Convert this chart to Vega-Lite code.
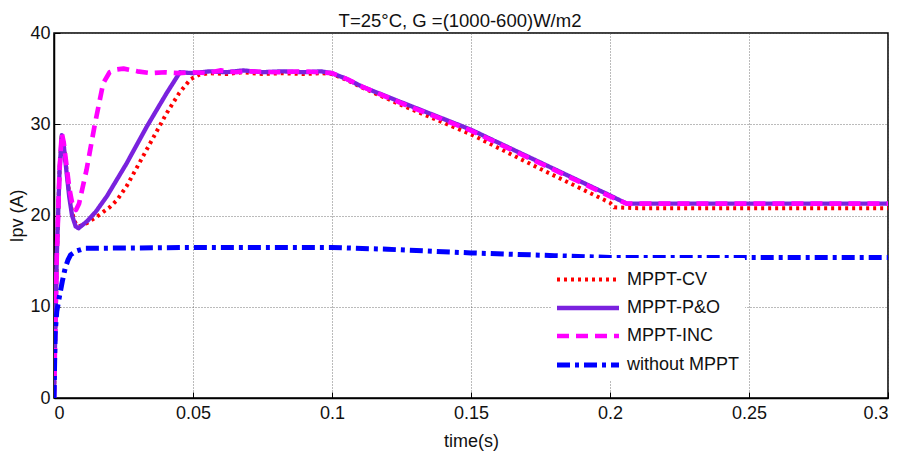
{
"$schema":"https://vega.github.io/schema/vega-lite/v6.json",
"width":834,"height":365,
"autosize":{"type":"none"},
"padding":{"left":54,"top":33,"right":11,"bottom":61},
"background":"white",
"title":{"text":"T=25°C, G =(1000-600)W/m2","font":"Liberation Sans","fontSize":18.5,"fontWeight":"normal","color":"#111","offset":-6,"anchor":"middle","dx":-11},
"config":{
 "view":{"stroke":"black","strokeWidth":1.5},
 "axis":{"domainColor":"black","domainWidth":1.5,"tickColor":"black","tickSize":-6,"tickWidth":1,"gridColor":"#555","gridDash":[1,2],"gridWidth":1,"gridOpacity":0.8,"labelFont":"Liberation Sans","labelFontSize":18,"labelColor":"#111","titleFont":"Liberation Sans","titleFontSize":18,"titleFontWeight":"normal","titleColor":"#111"},
 "legend":{"orient":"none","legendX":497,"legendY":225,"fillColor":"white","strokeColor":"white","padding":4,"symbolType":"M-2,0H2","symbolSize":961,"symbolOffset":15,"labelFont":"Liberation Sans","labelFontSize":18,"labelColor":"#111","labelOffset":21,"rowPadding":1}
},
"data":{"values":[
{"s":"MPPT-CV","t":0,"I":0},{"s":"MPPT-CV","t":0.0005,"I":8},{"s":"MPPT-CV","t":0.001,"I":15.5},{"s":"MPPT-CV","t":0.002,"I":25},{"s":"MPPT-CV","t":0.0028,"I":28.8},{"s":"MPPT-CV","t":0.0035,"I":27.8},{"s":"MPPT-CV","t":0.0045,"I":25},{"s":"MPPT-CV","t":0.0055,"I":22.3},{"s":"MPPT-CV","t":0.0065,"I":20.3},{"s":"MPPT-CV","t":0.0078,"I":19.1},{"s":"MPPT-CV","t":0.009,"I":18.8},{"s":"MPPT-CV","t":0.012,"I":19.2},{"s":"MPPT-CV","t":0.016,"I":20.0},{"s":"MPPT-CV","t":0.02,"I":20.9},{"s":"MPPT-CV","t":0.0227,"I":21.7},{"s":"MPPT-CV","t":0.0261,"I":23.2},{"s":"MPPT-CV","t":0.0333,"I":27.2},{"s":"MPPT-CV","t":0.0405,"I":31.2},{"s":"MPPT-CV","t":0.045,"I":33.4},{"s":"MPPT-CV","t":0.049,"I":34.9},{"s":"MPPT-CV","t":0.052,"I":35.4},{"s":"MPPT-CV","t":0.056,"I":35.6},{"s":"MPPT-CV","t":0.062,"I":35.5},{"s":"MPPT-CV","t":0.068,"I":35.7},{"s":"MPPT-CV","t":0.075,"I":35.5},{"s":"MPPT-CV","t":0.082,"I":35.6},{"s":"MPPT-CV","t":0.09,"I":35.5},{"s":"MPPT-CV","t":0.096,"I":35.6},{"s":"MPPT-CV","t":0.1,"I":35.5},{"s":"MPPT-CV","t":0.105,"I":34.9},{"s":"MPPT-CV","t":0.111,"I":34.0},{"s":"MPPT-CV","t":0.125,"I":32.1},{"s":"MPPT-CV","t":0.15,"I":28.9},{"s":"MPPT-CV","t":0.175,"I":25.1},{"s":"MPPT-CV","t":0.2,"I":21.4},{"s":"MPPT-CV","t":0.2015,"I":20.9},{"s":"MPPT-CV","t":0.21,"I":20.8},{"s":"MPPT-CV","t":0.25,"I":20.8},{"s":"MPPT-CV","t":0.3,"I":20.8},
{"s":"MPPT-P&O","t":0,"I":0},{"s":"MPPT-P&O","t":0.0005,"I":8},{"s":"MPPT-P&O","t":0.001,"I":15.5},{"s":"MPPT-P&O","t":0.002,"I":25},{"s":"MPPT-P&O","t":0.0028,"I":28.8},{"s":"MPPT-P&O","t":0.0035,"I":27.7},{"s":"MPPT-P&O","t":0.0045,"I":24.8},{"s":"MPPT-P&O","t":0.0055,"I":22.0},{"s":"MPPT-P&O","t":0.0065,"I":20.0},{"s":"MPPT-P&O","t":0.0078,"I":18.8},{"s":"MPPT-P&O","t":0.0088,"I":18.6},{"s":"MPPT-P&O","t":0.012,"I":19.4},{"s":"MPPT-P&O","t":0.015,"I":20.4},{"s":"MPPT-P&O","t":0.019,"I":22.1},{"s":"MPPT-P&O","t":0.0261,"I":25.7},{"s":"MPPT-P&O","t":0.0333,"I":29.7},{"s":"MPPT-P&O","t":0.0405,"I":33.4},{"s":"MPPT-P&O","t":0.0453,"I":35.7},{"s":"MPPT-P&O","t":0.05,"I":35.6},{"s":"MPPT-P&O","t":0.056,"I":35.8},{"s":"MPPT-P&O","t":0.062,"I":35.7},{"s":"MPPT-P&O","t":0.068,"I":35.9},{"s":"MPPT-P&O","t":0.075,"I":35.7},{"s":"MPPT-P&O","t":0.082,"I":35.8},{"s":"MPPT-P&O","t":0.09,"I":35.7},{"s":"MPPT-P&O","t":0.096,"I":35.8},{"s":"MPPT-P&O","t":0.1,"I":35.6},{"s":"MPPT-P&O","t":0.105,"I":35.0},{"s":"MPPT-P&O","t":0.111,"I":34.1},{"s":"MPPT-P&O","t":0.125,"I":32.4},{"s":"MPPT-P&O","t":0.15,"I":29.4},{"s":"MPPT-P&O","t":0.175,"I":25.8},{"s":"MPPT-P&O","t":0.2,"I":22.2},{"s":"MPPT-P&O","t":0.206,"I":21.3},{"s":"MPPT-P&O","t":0.25,"I":21.3},{"s":"MPPT-P&O","t":0.3,"I":21.3},
{"s":"MPPT-INC","t":0,"I":0},{"s":"MPPT-INC","t":0.0005,"I":8},{"s":"MPPT-INC","t":0.001,"I":15.5},{"s":"MPPT-INC","t":0.002,"I":25},{"s":"MPPT-INC","t":0.0028,"I":29},{"s":"MPPT-INC","t":0.0035,"I":28},{"s":"MPPT-INC","t":0.0045,"I":25.5},{"s":"MPPT-INC","t":0.0055,"I":23},{"s":"MPPT-INC","t":0.0065,"I":21.4},{"s":"MPPT-INC","t":0.0079,"I":20.6},{"s":"MPPT-INC","t":0.009,"I":21.3},{"s":"MPPT-INC","t":0.0117,"I":25},{"s":"MPPT-INC","t":0.0147,"I":30},{"s":"MPPT-INC","t":0.0177,"I":34.5},{"s":"MPPT-INC","t":0.02,"I":35.7},{"s":"MPPT-INC","t":0.0225,"I":36.0},{"s":"MPPT-INC","t":0.025,"I":36.1},{"s":"MPPT-INC","t":0.03,"I":35.8},{"s":"MPPT-INC","t":0.035,"I":35.6},{"s":"MPPT-INC","t":0.04,"I":35.7},{"s":"MPPT-INC","t":0.045,"I":35.6},{"s":"MPPT-INC","t":0.05,"I":35.7},{"s":"MPPT-INC","t":0.055,"I":35.6},{"s":"MPPT-INC","t":0.06,"I":35.9},{"s":"MPPT-INC","t":0.065,"I":35.7},{"s":"MPPT-INC","t":0.07,"I":35.8},{"s":"MPPT-INC","t":0.08,"I":35.7},{"s":"MPPT-INC","t":0.09,"I":35.8},{"s":"MPPT-INC","t":0.1,"I":35.6},{"s":"MPPT-INC","t":0.105,"I":35.0},{"s":"MPPT-INC","t":0.111,"I":34.1},{"s":"MPPT-INC","t":0.125,"I":32.3},{"s":"MPPT-INC","t":0.15,"I":29.3},{"s":"MPPT-INC","t":0.175,"I":25.7},{"s":"MPPT-INC","t":0.2,"I":22.1},{"s":"MPPT-INC","t":0.206,"I":21.3},{"s":"MPPT-INC","t":0.25,"I":21.3},{"s":"MPPT-INC","t":0.3,"I":21.3},
{"s":"without MPPT","t":0,"I":0},{"s":"without MPPT","t":0.0004,"I":7},{"s":"without MPPT","t":0.001,"I":9.5},{"s":"without MPPT","t":0.002,"I":11.2},{"s":"without MPPT","t":0.003,"I":12.8},{"s":"without MPPT","t":0.004,"I":14.2},{"s":"without MPPT","t":0.005,"I":15.1},{"s":"without MPPT","t":0.006,"I":15.7},{"s":"without MPPT","t":0.008,"I":16.1},{"s":"without MPPT","t":0.011,"I":16.4},{"s":"without MPPT","t":0.05,"I":16.5},{"s":"without MPPT","t":0.1,"I":16.5},{"s":"without MPPT","t":0.12,"I":16.3},{"s":"without MPPT","t":0.15,"I":15.9},{"s":"without MPPT","t":0.18,"I":15.6},{"s":"without MPPT","t":0.2,"I":15.4},{"s":"without MPPT","t":0.3,"I":15.4}
]},
"mark":{"type":"line","strokeCap":"butt","strokeJoin":"round","clip":true},
"encoding":{
 "x":{"field":"t","type":"quantitative","scale":{"domain":[0,0.3],"nice":false},"axis":{"values":[0,0.05,0.1,0.15,0.2,0.25,0.3],"format":"~g","title":"time(s)","labelPadding":12,"titlePadding":10}},
 "y":{"field":"I","type":"quantitative","scale":{"domain":[0,40],"nice":false},"axis":{"values":[0,10,20,30,40],"title":"Ipv (A)","labelPadding":10,"titlePadding":3}},
 "color":{"field":"s","type":"nominal","title":null,"scale":{"domain":["MPPT-CV","MPPT-P&O","MPPT-INC","without MPPT"],"range":["#FF0000","#7A22DE","#FF00FF","#0000FF"]}},
 "strokeDash":{"field":"s","type":"nominal","title":null,"scale":{"domain":["MPPT-CV","MPPT-P&O","MPPT-INC","without MPPT"],"range":[[3,4],[1,0],[12,7],[13,5,4,5]]}},
 "strokeWidth":{"field":"s","type":"nominal","title":null,"scale":{"domain":["MPPT-CV","MPPT-P&O","MPPT-INC","without MPPT"],"range":[4,5,4,4]}}
}
}
